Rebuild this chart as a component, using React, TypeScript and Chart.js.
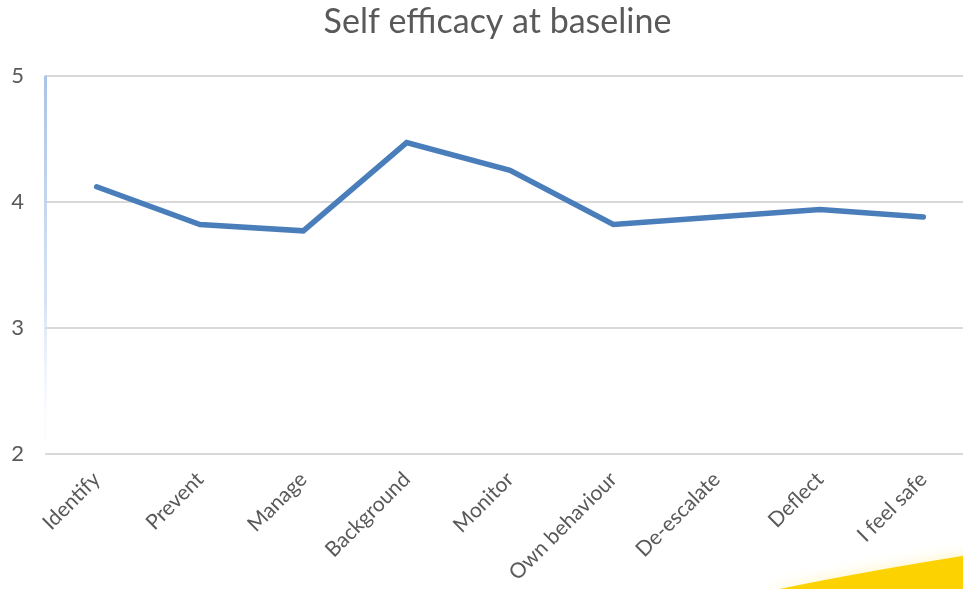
import React, { useEffect, useRef } from "react";
import { Chart, registerables } from "chart.js";

Chart.register(...registerables);

const categories: string[] = [
  "Identify",
  "Prevent",
  "Manage",
  "Background",
  "Monitor",
  "Own behaviour",
  "De-escalate",
  "Deflect",
  "I feel safe",
];

const selfEfficacy: number[] = [4.12, 3.82, 3.77, 4.47, 4.25, 3.82, 3.88, 3.94, 3.88];

const yTicks: number[] = [2, 3, 4, 5];

const titleText = "Self efficacy at baseline";

const FONT = "Lato, 'Open Sans', 'Liberation Sans', sans-serif";
const TEXT_COLOR = "#595959";

// Nudge the title block so the heading sits a little right of the canvas centre.
const titleShift = {
  id: "titleShift",
  afterLayout(chart: any) {
    if (chart.titleBlock) {
      chart.titleBlock.left = 20;
    }
  },
};

// Soft gradient axis line on the left edge of the plot area.
const leftAxisLine = {
  id: "leftAxisLine",
  beforeDatasetsDraw(chart: any) {
    const { ctx, chartArea } = chart;
    const g = ctx.createLinearGradient(0, chartArea.top, 0, chartArea.bottom);
    g.addColorStop(0, "rgba(170,195,230,1)");
    g.addColorStop(0.6, "rgba(205,220,242,0.8)");
    g.addColorStop(1, "rgba(255,255,255,0.2)");
    ctx.save();
    ctx.strokeStyle = g;
    ctx.lineWidth = 3;
    ctx.beginPath();
    ctx.moveTo(chartArea.left + 0.5, chartArea.top);
    ctx.lineTo(chartArea.left + 0.5, chartArea.bottom);
    ctx.stroke();
    ctx.restore();
  },
};

// Yellow accent band in the lower right corner.
const cornerAccent = {
  id: "cornerAccent",
  afterDraw(chart: any) {
    const { ctx } = chart;
    ctx.save();
    ctx.shadowColor = "rgba(255,220,60,0.35)";
    ctx.shadowBlur = 14;
    ctx.fillStyle = "#fcd300";
    ctx.beginPath();
    ctx.moveTo(765, 592);
    ctx.quadraticCurveTo(860, 572, 975, 554);
    ctx.lineTo(975, 592);
    ctx.closePath();
    ctx.fill();
    ctx.restore();
  },
};

export default function App() {
  const canvasRef = useRef<HTMLCanvasElement | null>(null);

  useEffect(() => {
    if (!canvasRef.current) return;
    const chart = new Chart(canvasRef.current, {
      type: "line",
      data: {
        labels: categories,
        datasets: [
          {
            data: selfEfficacy,
            borderColor: "#4a7ebb",
            borderWidth: 5.5,
            borderCapStyle: "round",
            pointRadius: 0,
            pointHoverRadius: 0,
            tension: 0,
            fill: false,
          },
        ],
      },
      options: {
        responsive: false,
        animation: false,
        devicePixelRatio: 1,
        layout: { padding: { left: 0, right: 0, top: 0, bottom: 0 } },
        plugins: {
          legend: { display: false },
          tooltip: { enabled: false },
          title: {
            display: true,
            text: titleText,
            color: TEXT_COLOR,
            font: { family: FONT, size: 34, weight: "normal" },
            padding: { top: 2, bottom: 33 },
          },
        },
        scales: {
          x: {
            offset: true,
            grid: { display: false, drawTicks: false },
            border: { display: false },
            ticks: {
              color: TEXT_COLOR,
              font: { family: FONT, size: 21 },
              minRotation: 45,
              maxRotation: 45,
              padding: 13,
              autoSkip: false,
            },
            afterFit(scale: any) {
              scale.height = 135;
            },
          },
          y: {
            min: 2,
            max: 5,
            afterBuildTicks(scale: any) {
              scale.ticks = yTicks.map((v) => ({ value: v }));
            },
            grid: { color: "#d9d9d9", lineWidth: 2, drawTicks: false },
            border: { display: false },
            ticks: {
              color: TEXT_COLOR,
              font: { family: FONT, size: 22 },
              padding: 21,
            },
            afterFit(scale: any) {
              scale.width = 45;
            },
          },
        },
      },
      plugins: [titleShift, leftAxisLine, cornerAccent],
    });
    return () => chart.destroy();
  }, []);

  return (
    <div
      style={{
        position: "fixed",
        left: 0,
        top: 0,
        width: 963,
        height: 589,
        overflow: "hidden",
        background: "#ffffff",
      }}
    >
      <canvas ref={canvasRef} width={975} height={589} style={{ display: "block" }} />
    </div>
  );
}
